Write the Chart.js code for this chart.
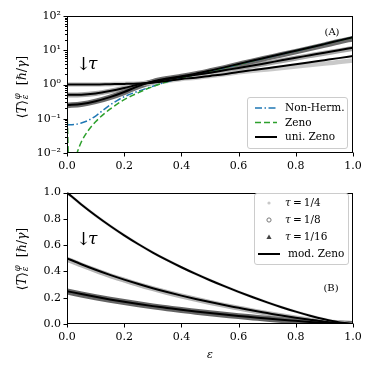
<!DOCTYPE html>
<html><head><meta charset="utf-8">
<script src="https://cdn.jsdelivr.net/npm/chart.js@4.4.1/dist/chart.umd.min.js"></script>
<style>
html,body{margin:0;padding:0;background:#fff;width:374px;height:374px;overflow:hidden}
canvas{position:absolute;left:0}
#c1{top:0}
#c2{top:180px}
</style></head><body>
<canvas id="c1" width="374" height="180"></canvas>
<canvas id="c2" width="374" height="194"></canvas>
<script>
// ---------- data ----------
const eps = [0,0.05,0.1,0.15,0.2,0.25,0.3,0.35,0.4,0.45,0.5,0.55,0.6,0.65,0.7,0.75,0.8,0.85,0.9,0.95,1.0];

// panel (A): log scale
const nhEps    = [0,0.025,0.05,0.075,0.1,0.125,0.15,0.175,0.2,0.25,0.3,0.35,0.4,0.45,0.5,0.55,0.6,0.65,0.7,0.75,0.8,0.85,0.9,0.95,1.0];
const nonHerm  = [0.066,0.068,0.075,0.09,0.12,0.175,0.25,0.34,0.44,0.64,0.89,1.2,1.55,1.95,2.44,3.06,3.86,4.9,6.15,7.7,9.6,12.0,15.1,19.1,23.9];
const zenoEps  = [0,0.01,0.025,0.035,0.05,0.075,0.1,0.15,0.2,0.25,0.3,0.35,0.4,0.45,0.5,0.55,0.6,0.65,0.7,0.75,0.8,0.85,0.9,0.95,1.0];
const zeno     = [0.18,0.0008,0.0051,0.01,0.021,0.046,0.082,0.19,0.36,0.58,0.87,1.2,1.55,1.95,2.44,3.06,3.86,4.9,6.15,7.7,9.6,12.0,15.1,19.1,23.9];
const uniZeno1 = [1.00,1.00,1.00,1.02,1.04,1.07,1.13,1.26,1.45,1.58,1.78,2.00,2.32,2.63,2.99,3.43,3.89,4.47,5.13,5.89,6.79];
const uniZeno2 = [0.50,0.505,0.55,0.645,0.79,1.00,1.20,1.42,1.66,1.91,2.21,2.60,3.05,3.59,4.27,5.07,6.03,7.16,8.51,10.0,11.9];
const uniZeno3 = [0.251,0.269,0.324,0.427,0.603,0.90,1.22,1.50,1.74,2.07,2.54,3.16,3.98,5.01,6.24,7.76,9.66,12.0,15.1,19.1,23.9];
const simTop4  = [1.00,1.00,1.00,1.02,1.04,1.07,1.13,1.26,1.45,1.58,1.78,2.00,2.26,2.51,2.75,3.05,3.35,3.72,4.07,4.52,5.01];
const simTop8  = [0.49,0.50,0.545,0.64,0.785,0.99,1.19,1.40,1.64,1.89,2.18,2.56,3.00,3.52,4.18,4.95,5.87,6.95,8.20,9.60,11.3];
const simTop16 = [0.245,0.265,0.32,0.42,0.59,0.88,1.20,1.47,1.71,2.03,2.48,3.07,3.85,4.82,5.97,7.38,9.13,11.3,14.1,17.7,21.8];
const logTicks  = [0.01,0.1,1,10,100];
const logLabels = ['10\u207B\u00B2','10\u207B\u00B9','10\u2070','10\u00B9','10\u00B2'];

// panel (B): linear scale
const modZeno1 = [1.000,0.910,0.826,0.748,0.675,0.607,0.544,0.486,0.432,0.381,0.333,0.288,0.245,0.204,0.165,0.128,0.094,0.063,0.036,0.014,0.000];
const modZeno2 = [0.500,0.455,0.413,0.374,0.338,0.304,0.272,0.243,0.216,0.191,0.167,0.144,0.123,0.102,0.083,0.064,0.047,0.032,0.018,0.007,0.000];
const modZeno3 = [0.250,0.228,0.207,0.187,0.169,0.152,0.136,0.122,0.108,0.095,0.083,0.072,0.061,0.051,0.041,0.032,0.024,0.016,0.009,0.004,0.000];
const simBot4  = [1.000,0.910,0.826,0.748,0.675,0.607,0.544,0.486,0.432,0.381,0.333,0.288,0.245,0.204,0.165,0.128,0.094,0.063,0.036,0.014,0.000];
const simBot8  = [0.493,0.449,0.408,0.369,0.334,0.300,0.269,0.240,0.213,0.188,0.164,0.142,0.121,0.100,0.081,0.063,0.046,0.031,0.018,0.007,0.000];
const simBot16 = [0.247,0.225,0.204,0.185,0.167,0.150,0.134,0.120,0.106,0.094,0.082,0.071,0.060,0.050,0.040,0.031,0.023,0.016,0.009,0.004,0.000];

const xTicks = [0,0.2,0.4,0.6,0.8,1.0];
const linTicks = [0,0.2,0.4,0.6,0.8,1.0];

// ---------- helpers ----------
const SERIF = '"DejaVu Serif", serif';
const pts = (xs, ys) => xs.map((x, i) => ({x: x, y: ys[i]}));
const tickFont = {family: 'DejaVu Serif', size: 11};

function lineDS(label, xs, ys, color, width, dash, order) {
  return {label, data: pts(xs, ys), borderColor: color, borderWidth: width, borderDash: dash || [],
    pointRadius: 0, cubicInterpolationMode: 'monotone', fill: false, order, clip: 0,
    borderCapStyle: 'butt', borderJoinStyle: 'round'};
}
function bandDS(label, xs, ys, color, width) {
  return {label, data: pts(xs, ys), borderColor: color, borderWidth: width, pointRadius: 0,
    cubicInterpolationMode: 'monotone', fill: false, order: 5, clip: 0, borderCapStyle: 'round'};
}

function frameAndTicks(chart, minorVals) {
  const ctx = chart.ctx, a = chart.chartArea, xs = chart.scales.x, ys = chart.scales.y;
  ctx.save();
  ctx.strokeStyle = '#000'; ctx.lineWidth = 1;
  const L = Math.round(a.left) + 0.5, R = Math.round(a.right) - 0.5;
  const T = Math.round(a.top) + 0.5, B = Math.round(a.bottom) - 0.5;
  ctx.strokeRect(L, T, R - L, B - T);
  ctx.beginPath();
  xs.ticks.forEach(t => { const p = Math.round(xs.getPixelForValue(t.value)) + 0.5; ctx.moveTo(p, B); ctx.lineTo(p, B + 4); });
  ys.ticks.forEach(t => { const p = Math.round(ys.getPixelForValue(t.value)) + 0.5; ctx.moveTo(L, p); ctx.lineTo(L - 4, p); });
  ctx.stroke();
  if (minorVals) {
    ctx.beginPath();
    minorVals.forEach(v => { const p = Math.round(ys.getPixelForValue(v)) + 0.5; ctx.moveTo(L, p); ctx.lineTo(L - 2.5, p); });
    ctx.stroke();
  }
  ctx.restore();
}

function yTitle(ctx, cx, cy) {
  ctx.save();
  ctx.translate(cx, cy);
  ctx.rotate(-Math.PI / 2);
  ctx.fillStyle = '#000';
  ctx.textBaseline = 'alphabetic';
  ctx.textAlign = 'left';
  const big = '12.5px ' + SERIF, bigI = 'italic 12.5px ' + SERIF, sm = 'italic 8.5px ' + SERIF;
  const parts = [
    {t: '\u27E8', f: big}, {t: 'T', f: bigI}, {t: '\u27E9', f: big},
    {sup: '\u03C6', sub: '\u03B5'},
    {t: '  [', f: big}, {t: '\u210F', f: bigI}, {t: '/', f: big}, {t: '\u03B3', f: bigI}, {t: ']', f: big}
  ];
  let w = 0;
  parts.forEach(p => {
    if (p.t) { ctx.font = p.f; p.w = ctx.measureText(p.t).width; }
    else { ctx.font = sm; p.w = Math.max(ctx.measureText(p.sup).width, ctx.measureText(p.sub).width) + 1; }
    w += p.w;
  });
  let x = -w / 2;
  const base = 4.5;
  parts.forEach(p => {
    if (p.t) { ctx.font = p.f; ctx.fillText(p.t, x, base); }
    else { ctx.font = sm; ctx.fillText(p.sup, x + 1, base - 5.5); ctx.fillText(p.sub, x + 1, base + 2.5); }
    x += p.w;
  });
  ctx.restore();
}

function arrowTau(ctx, x, y) {
  ctx.save();
  ctx.fillStyle = '#000';
  ctx.textBaseline = 'middle';
  ctx.textAlign = 'left';
  ctx.font = '18px ' + SERIF;
  ctx.fillText('\u2193', x, y);
  const w = ctx.measureText('\u2193').width;
  ctx.font = 'italic 17px ' + SERIF;
  ctx.fillText('\u03C4', x + w - 3, y);
  ctx.restore();
}

function legendBox(ctx, x, y, w, h) {
  ctx.save();
  ctx.beginPath();
  if (ctx.roundRect) ctx.roundRect(x + 0.5, y + 0.5, w, h, 2.5); else ctx.rect(x + 0.5, y + 0.5, w, h);
  ctx.fillStyle = 'rgba(255,255,255,0.8)';
  ctx.fill();
  ctx.strokeStyle = '#cccccc';
  ctx.lineWidth = 1;
  ctx.stroke();
  ctx.restore();
}

// minor ticks of the log axis
const minorLog = [];
[0.01, 0.1, 1, 10].forEach(d => { for (let k = 2; k <= 9; k++) minorLog.push(d * k); });

const commonX = {
  type: 'linear', min: 0, max: 1,
  grid: {display: false, drawTicks: false}, border: {display: false},
  afterBuildTicks: s => { s.ticks = xTicks.map(v => ({value: v})); },
  ticks: {padding: 7, font: tickFont, color: '#000', maxRotation: 0, autoSkip: false,
    callback: v => Number(v).toFixed(1)}
};

// ---------- panel A ----------
const plugA = {
  id: 'decoA',
  afterDraw(chart) {
    const ctx = chart.ctx;
    frameAndTicks(chart, minorLog);
    yTitle(ctx, 21, 87);
    arrowTau(ctx, 76, 65);
    ctx.save();
    ctx.fillStyle = '#000'; ctx.font = '10px ' + SERIF; ctx.textAlign = 'center'; ctx.textBaseline = 'middle';
    ctx.fillText('(A)', 332, 32);
    ctx.restore();
    // legend
    legendBox(ctx, 247, 97, 100, 51);
    const items = [
      {t: 'Non-Herm.', c: '#1f77b4', d: [7, 2.5, 1.5, 2.5], w: 1.5, y: 108},
      {t: 'Zeno', c: '#2ca02c', d: [6, 3], w: 1.5, y: 122.5},
      {t: 'uni. Zeno', c: '#000', d: [], w: 2, y: 137}
    ];
    ctx.save();
    items.forEach(it => {
      ctx.beginPath(); ctx.strokeStyle = it.c; ctx.lineWidth = it.w; ctx.setLineDash(it.d);
      ctx.moveTo(255, it.y); ctx.lineTo(277, it.y); ctx.stroke();
      ctx.setLineDash([]);
      ctx.fillStyle = '#000'; ctx.font = '10.5px ' + SERIF; ctx.textBaseline = 'middle'; ctx.textAlign = 'left';
      ctx.fillText(it.t, 285, it.y + 0.5);
    });
    ctx.restore();
  }
};

new Chart(document.getElementById('c1'), {
  type: 'line',
  data: {datasets: [
    lineDS('uni. Zeno', eps, uniZeno1, '#000', 2, null, 0),
    lineDS('uni. Zeno 2', eps, uniZeno2, '#000', 2, null, 0),
    lineDS('uni. Zeno 3', eps, uniZeno3, '#000', 2, null, 0),
    lineDS('Zeno', zenoEps, zeno, '#2ca02c', 1.5, [6, 3], 1),
    lineDS('Non-Herm.', nhEps, nonHerm, '#1f77b4', 1.5, [7, 2.5, 1.5, 2.5], 2),
    bandDS('\u03C4=1/4', eps, simTop4, 'rgba(195,195,195,0.9)', 4.5),
    bandDS('\u03C4=1/8', eps, simTop8, 'rgba(110,110,110,0.6)', 5),
    bandDS('\u03C4=1/16', eps, simTop16, 'rgba(60,60,60,0.75)', 5.5)
  ]},
  options: {
    responsive: false, animation: false, devicePixelRatio: 1, events: [],
    layout: {padding: {left: 0, right: 21, top: 16, bottom: 0}},
    plugins: {legend: {display: false}, tooltip: {enabled: false}},
    scales: {
      x: Object.assign({}, commonX, {afterFit: s => { s.height = 27; }}),
      y: {
        type: 'logarithmic', min: 0.01, max: 100,
        grid: {display: false, drawTicks: false}, border: {display: false},
        afterFit: s => { s.width = 67; },
        afterBuildTicks: s => { s.ticks = logTicks.map(v => ({value: v})); },
        ticks: {padding: 6, font: tickFont, color: '#000', autoSkip: false,
          callback: v => { const i = logTicks.findIndex(t => Math.abs(Math.log10(t) - Math.log10(v)) < 1e-6); return i >= 0 ? logLabels[i] : ''; }}
      }
    }
  },
  plugins: [plugA]
});

// ---------- panel B ----------
const plugB = {
  id: 'decoB',
  afterDraw(chart) {
    const ctx = chart.ctx;
    frameAndTicks(chart, null);
    yTitle(ctx, 21, 79);
    arrowTau(ctx, 76, 60);
    ctx.save();
    ctx.fillStyle = '#000'; ctx.font = '10px ' + SERIF; ctx.textAlign = 'center'; ctx.textBaseline = 'middle';
    ctx.fillText('(B)', 331, 108);
    ctx.font = 'italic 11px ' + SERIF;
    ctx.fillText('\u03B5', 210, 175);
    ctx.restore();
    // legend
    legendBox(ctx, 254, 13, 94, 71);
    ctx.save();
    const rows = [23, 40, 57, 74];
    const mx = 269;
    ctx.fillStyle = '#c8c8c8';
    ctx.beginPath(); ctx.arc(mx, rows[0], 1.6, 0, Math.PI * 2); ctx.fill();
    ctx.strokeStyle = '#777'; ctx.lineWidth = 1;
    ctx.beginPath(); ctx.arc(mx, rows[1], 2.1, 0, Math.PI * 2); ctx.stroke();
    ctx.fillStyle = '#444';
    ctx.beginPath(); ctx.moveTo(mx, rows[2] - 2.6); ctx.lineTo(mx + 2.6, rows[2] + 2); ctx.lineTo(mx - 2.6, rows[2] + 2); ctx.closePath(); ctx.fill();
    ctx.strokeStyle = '#000'; ctx.lineWidth = 2;
    ctx.beginPath(); ctx.moveTo(258, rows[3]); ctx.lineTo(280, rows[3]); ctx.stroke();
    ctx.fillStyle = '#000'; ctx.textBaseline = 'middle'; ctx.textAlign = 'left';
    const tl = ['1/4', '1/8', '1/16'];
    tl.forEach((t, i) => {
      ctx.font = 'italic 10.5px ' + SERIF;
      ctx.fillText('\u03C4', 285, rows[i] + 0.5);
      const w = ctx.measureText('\u03C4').width;
      ctx.font = '10.5px ' + SERIF;
      ctx.fillText('\u2009=\u2009' + t, 285 + w, rows[i] + 0.5);
    });
    ctx.font = '10.5px ' + SERIF;
    ctx.fillText('mod. Zeno', 288, rows[3] + 0.5);
    ctx.restore();
  }
};

new Chart(document.getElementById('c2'), {
  type: 'line',
  data: {datasets: [
    lineDS('mod. Zeno', eps, modZeno1, '#000', 2, null, 0),
    lineDS('mod. Zeno 2', eps, modZeno2, '#000', 2, null, 0),
    lineDS('mod. Zeno 3', eps, modZeno3, '#000', 2, null, 0),
    bandDS('\u03C4=1/4', eps, simBot4, 'rgba(215,215,215,0.8)', 3),
    bandDS('\u03C4=1/8', eps, simBot8, 'rgba(120,120,120,0.55)', 5),
    bandDS('\u03C4=1/16', eps, simBot16, 'rgba(50,50,50,0.75)', 6)
  ]},
  options: {
    responsive: false, animation: false, devicePixelRatio: 1, events: [],
    layout: {padding: {left: 0, right: 21, top: 9, bottom: 0}},
    plugins: {legend: {display: false}, tooltip: {enabled: false}},
    scales: {
      x: Object.assign({}, commonX, {afterFit: s => { s.height = 50; }}),
      y: {
        type: 'linear', min: 0, max: 1,
        grid: {display: false, drawTicks: false}, border: {display: false},
        afterFit: s => { s.width = 67; },
        afterBuildTicks: s => { s.ticks = linTicks.map(v => ({value: v})); },
        ticks: {padding: 6, font: tickFont, color: '#000', autoSkip: false, callback: v => Number(v).toFixed(1)}
      }
    }
  },
  plugins: [plugB]
});
</script>
</body></html>
